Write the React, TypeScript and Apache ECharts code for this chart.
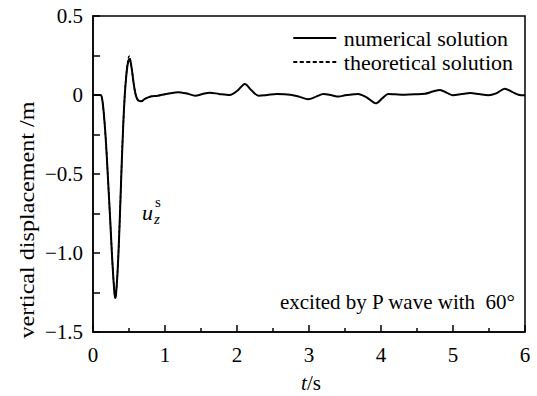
import React, { useEffect, useRef } from "react";
import * as echarts from "echarts";

const times = [0, 0.1, 0.12, 0.14, 0.16, 0.18, 0.2, 0.22, 0.24, 0.26, 0.28, 0.3, 0.31, 0.32, 0.34, 0.36, 0.38, 0.4, 0.42, 0.44, 0.46, 0.48, 0.5, 0.51, 0.52, 0.54, 0.56, 0.58, 0.6, 0.63, 0.67, 0.72, 0.8, 0.9, 1.0, 1.07, 1.18, 1.3, 1.42, 1.52, 1.62, 1.75, 1.9, 2.0, 2.11, 2.2, 2.3, 2.42, 2.55, 2.74, 2.87, 2.99, 3.1, 3.2, 3.3, 3.41, 3.5, 3.57, 3.68, 3.8, 3.93, 4.02, 4.1, 4.2, 4.33, 4.47, 4.61, 4.72, 4.82, 4.91, 5.0, 5.12, 5.24, 5.36, 5.49, 5.6, 5.72, 5.82, 5.91, 6.0];
const numerical = [0, 0, -0.01, -0.07, -0.17, -0.3, -0.46, -0.63, -0.8, -0.98, -1.14, -1.26, -1.285, -1.26, -1.13, -0.93, -0.68, -0.42, -0.19, -0.01, 0.11, 0.19, 0.225, 0.228, 0.215, 0.16, 0.09, 0.03, -0.01, -0.035, -0.04, -0.025, -0.01, -0.005, 0.005, 0.011, 0.018, 0.01, -0.004, 0.006, 0.015, 0.007, 0.0, 0.025, 0.07, 0.03, -0.004, 0.0, 0.006, 0.002, -0.012, -0.027, -0.01, 0.006, 0.0, -0.01, -0.002, 0.002, 0.006, -0.015, -0.053, -0.02, 0.006, 0.004, 0.002, 0.004, 0.008, 0.022, 0.032, 0.015, -0.002, 0.006, 0.013, 0.006, -0.002, 0.01, 0.04, 0.02, 0.002, -0.002];

const theoTimes = [0, 0.1, 0.12, 0.14, 0.16, 0.18, 0.2, 0.22, 0.24, 0.26, 0.28, 0.3, 0.31, 0.32, 0.34, 0.36, 0.38, 0.4, 0.42, 0.44, 0.46, 0.48, 0.5, 0.51, 0.52, 0.54, 0.56, 0.58, 0.6, 0.63, 0.67, 0.72, 0.8, 0.9, 1.0];
const theoretical = [0, 0, -0.01, -0.07, -0.17, -0.3, -0.46, -0.63, -0.8, -0.98, -1.14, -1.26, -1.28, -1.26, -1.13, -0.93, -0.68, -0.42, -0.19, -0.01, 0.12, 0.2, 0.245, 0.245, 0.22, 0.16, 0.09, 0.03, -0.01, -0.035, -0.04, -0.025, -0.01, -0.005, 0.005];

const xTicks = [0, 1, 2, 3, 4, 5, 6];
const yTickLabels: Record<string, string> = { "0.5": "0.5", "0": "0", "-0.5": "\u22120.5", "-1": "\u22121.0", "-1.5": "\u22121.5" };

const FONT = '"Liberation Serif", "Times New Roman", serif';
const DASH_ICON = "path://M0,0h4v2h-4z M6.5,0h4v2h-4z M13,0h4v2h-4z M19.5,0h4v2h-4z M26,0h4v2h-4z M32.5,0h4v2h-4z M39,0h4v2h-4z";
const SOLID_ICON = "path://M0,0h43v2h-43z";

export default function App() {
  const ref = useRef<HTMLDivElement>(null);
  useEffect(() => {
    const chart = echarts.init(ref.current!, undefined, { renderer: "svg" });
    chart.setOption({
      animation: false,
      backgroundColor: "#fff",
      textStyle: { fontFamily: FONT, color: "#000" },
      grid: { left: 93, right: 12, top: 16, bottom: 64, show: true, borderColor: "#000", borderWidth: 1.5 },
      legend: {
        orient: "vertical",
        right: 19,
        top: 22,
        itemWidth: 44,
        itemHeight: 2,
        itemGap: 2,
        textStyle: { fontFamily: FONT, fontSize: 22, lineHeight: 20, color: "#000", padding: [0, 0, 0, 2] },
        data: [
          { name: "numerical solution", icon: SOLID_ICON },
          { name: "theoretical solution", icon: DASH_ICON },
        ],
      },
      xAxis: {
        type: "value",
        min: 0,
        max: 6,
        interval: 1,
        axisLine: { show: true, onZero: false, lineStyle: { color: "#000", width: 1.5 } },
        axisTick: { show: true, inside: true, length: 7, lineStyle: { color: "#000", width: 1.5 } },
        minorTick: { show: true, splitNumber: 2, length: 4, lineStyle: { color: "#000", width: 1.5 } },
        splitLine: { show: false },
        axisLabel: {
          margin: 12,
          fontSize: 21,
          fontFamily: FONT,
          color: "#000",
          formatter: (v: number) => (xTicks.includes(v) ? String(v) : ""),
        },
      },
      yAxis: {
        type: "value",
        min: -1.5,
        max: 0.5,
        interval: 0.5,
        axisLine: { show: true, onZero: false, lineStyle: { color: "#000", width: 1.5 } },
        axisTick: { show: true, inside: true, length: 7, lineStyle: { color: "#000", width: 1.5 } },
        minorTick: { show: true, splitNumber: 2, length: 7, lineStyle: { color: "#000", width: 1.5 } },
        splitLine: { show: false },
        axisLabel: {
          margin: 10,
          fontSize: 21,
          fontFamily: FONT,
          color: "#000",
          formatter: (v: number) => yTickLabels[String(v)] ?? String(v),
        },
      },
      series: [
        {
          name: "theoretical solution",
          type: "line",
          data: theoTimes.map((t, i) => [t, theoretical[i]]),
          showSymbol: false,
          symbol: "none",
          smooth: 0.3,
          lineStyle: { color: "#000", width: 1.5, type: [3, 2] },
          itemStyle: { color: "#000" },
        },
        {
          name: "numerical solution",
          type: "line",
          data: times.map((t, i) => [t, numerical[i]]),
          showSymbol: false,
          symbol: "none",
          smooth: 0.3,
          lineStyle: { color: "#000", width: 2 },
          itemStyle: { color: "#000" },
          z: 3,
        },
      ],
      graphic: [
        {
          type: "text",
          x: 27,
          y: 220,
          rotation: Math.PI / 2,
          scaleX: 1.15,
          style: {
            text: "vertical displacement /m",
            fontFamily: FONT,
            fontSize: 21,
            fill: "#000",
            align: "center",
            verticalAlign: "middle",
          },
        },
        {
          type: "text",
          x: 311,
          y: 383,
          style: {
            text: "{i|t}/s",
            fontFamily: FONT,
            fontSize: 21,
            fill: "#000",
            align: "center",
            verticalAlign: "middle",
            rich: { i: { fontStyle: "italic", fontFamily: FONT, fontSize: 21 } },
          },
        },
        {
          type: "text",
          x: 515,
          y: 302,
          style: {
            text: "excited by P wave with  60\u00b0",
            fontFamily: FONT,
            fontSize: 21,
            fill: "#000",
            align: "right",
            verticalAlign: "middle",
          },
        },
        {
          type: "text",
          x: 142,
          y: 212,
          style: {
            text: "u",
            fontFamily: FONT,
            fontStyle: "italic",
            fontSize: 22,
            fill: "#000",
            verticalAlign: "middle",
          },
        },
        {
          type: "text",
          x: 155,
          y: 202,
          style: { text: "s", fontFamily: FONT, fontSize: 15, fill: "#000", verticalAlign: "middle" },
        },
        {
          type: "text",
          x: 154,
          y: 219,
          style: { text: "z", fontFamily: FONT, fontStyle: "italic", fontSize: 15, fill: "#000", verticalAlign: "middle" },
        },
      ],
    });
    return () => chart.dispose();
  }, []);
  return <div ref={ref} style={{ width: 537, height: 396, position: "absolute", left: 0, top: 0 }} />;
}
